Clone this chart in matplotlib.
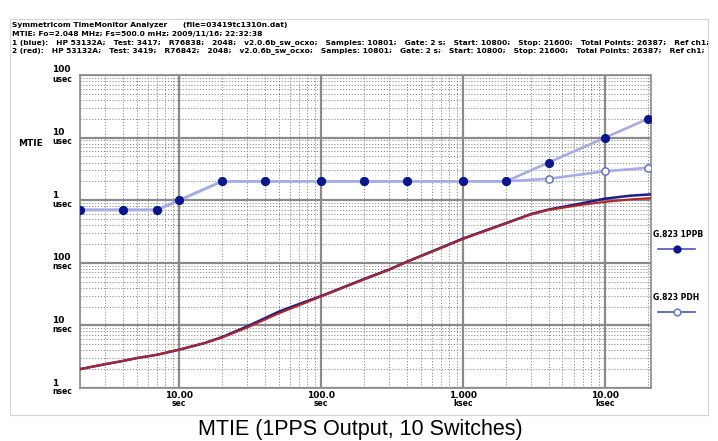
import numpy as np
import matplotlib
matplotlib.use("Agg")
import matplotlib.pyplot as plt

# ---------------------------------------------------------------- data
# measured MTIE, tau in seconds, values in ns
tau = [2, 3, 4, 5, 7, 10, 15, 20, 30, 50, 70, 100, 200, 300, 400, 700,
       1000, 2000, 3000, 4000, 7000, 10000, 15000, 21000]
blue_ns = [2.0, 2.4, 2.7, 3.0, 3.4, 4.1, 5.2, 6.5, 9.6, 16.5, 22, 29.5, 55, 78, 104, 175,
           245, 430, 600, 710, 900, 1060, 1180, 1240]
red_ns = [2.0, 2.4, 2.7, 3.0, 3.4, 4.1, 5.2, 6.4, 9.2, 15.5, 21, 29, 54, 77, 103, 172,
          240, 425, 590, 700, 850, 940, 1030, 1080]

# G.823 masks, tau in seconds, values in us
mask_tau = [2, 4, 7, 10, 20, 40, 100, 200, 400, 1000, 2000, 4000, 10000, 20000]
ppb_us = [0.7, 0.7, 0.7, 1.0, 2.0, 2.0, 2.0, 2.0, 2.0, 2.0, 2.0, 4.0, 10.0, 20.0]
pdh_us = [0.7, 0.7, 0.7, 1.0, 2.0, 2.0, 2.0, 2.0, 2.0, 2.0, 2.0, 2.2, 2.9, 3.3]

y_ticks = [1e-4, 1e-5, 1e-6, 1e-7, 1e-8, 1e-9]
y_nums = ["100", "10", "1", "100", "10", "1"]
y_units = ["usec", "usec", "usec", "nsec", "nsec", "nsec"]
x_ticks = [10, 100, 1000, 10000]
x_nums = ["10.00", "100.0", "1.000", "10.00"]
x_units = ["sec", "sec", "ksec", "ksec"]

header = [
    "Symmetricom TimeMonitor Analyzer      (file=03419tc1310n.dat)",
    "MTIE; Fo=2.048 MHz; Fs=500.0 mHz; 2009/11/16; 22:32:38",
    "1 (blue):   HP 53132A;   Test: 3417;   R76838;   2048;   v2.0.6b_sw_ocxo;   Samples: 10801;   Gate: 2 s;   Start: 10800;   Stop: 21600;   Total Points: 26387;   Ref ch1;",
    "2 (red):   HP 53132A;   Test: 3419;   R76842;   2048;   v2.0.6b_sw_ocxo;   Samples: 10801;   Gate: 2 s;   Start: 10800;   Stop: 21600;   Total Points: 26387;   Ref ch1;  T",
]
caption = "MTIE (1PPS Output, 10 Switches)"

# ---------------------------------------------------------------- figure
W, H = 718, 441
fig = plt.figure(figsize=(W / 100, H / 100), dpi=100)
small = ["Liberation Sans Narrow", "DejaVu Sans"]

# frame around the analyzer screenshot
frame = fig.add_axes([10 / W, 1 - 415 / H, 698 / W, 396 / H])
frame.set_xticks([])
frame.set_yticks([])
frame.set_xlim(0, 698)
frame.set_ylim(396, 0)
for s in frame.spines.values():
    s.set_color("#d4d4d4")
    s.set_linewidth(0.8)
for i, line in enumerate(header):
    frame.text(2, 6.5 + i * 8.4, line, fontsize=5.4, fontweight="bold",
               family=small, va="center", ha="left", clip_on=True)

ax = fig.add_axes([80 / W, 1 - 388 / H, 571 / W, 313 / H])
ax.set_xscale("log")
ax.set_yscale("log")
ax.set_xlim(2, 21000)
ax.set_ylim(1e-9, 1e-4)

ax.grid(which="major", color="#8a8a8a", linewidth=1.6, linestyle="-")
ax.grid(which="minor", color="#8a8a8a", linewidth=0.7, linestyle=(0, (1.2, 1.8)))
ax.tick_params(which="both", length=0, labelleft=False, labelbottom=False)
for s in ax.spines.values():
    s.set_color("#8a8a8a")
    s.set_linewidth(1.2)
ax.set_axisbelow(True)

mask_col = "#a8ace4"
ax.plot(mask_tau, np.array(pdh_us) * 1e-6, color=mask_col, lw=1.9, marker="o", ms=5.2,
        mfc="white", mec="#6a74c8", mew=1.1, zorder=3)
ax.plot(mask_tau, np.array(ppb_us) * 1e-6, color=mask_col, lw=1.9, marker="o", ms=5.6,
        mfc="#0a1790", mec="#0a1790", zorder=4)
ax.plot(tau, np.array(blue_ns) * 1e-9, color="#1c1c8a", lw=1.8, zorder=5)
ax.plot(tau, np.array(red_ns) * 1e-9, color="#b0262a", lw=1.5, zorder=6)

for v, n, u in zip(y_ticks, y_nums, y_units):
    ax.annotate(n, xy=(0, v), xycoords=("axes fraction", "data"), xytext=(-28, 5),
                textcoords="offset pixels", ha="left", va="center", fontsize=6.5,
                fontweight="bold", family=small)
    ax.annotate(u, xy=(0, v), xycoords=("axes fraction", "data"), xytext=(-28, -4),
                textcoords="offset pixels", ha="left", va="center", fontsize=5.5,
                fontweight="bold", family=small)
ax.annotate("MTIE", xy=(0, 1e-5), xycoords=("axes fraction", "data"), xytext=(-62, -6),
            textcoords="offset pixels", ha="left", va="center", fontsize=6.5,
            fontweight="bold", family=small)

for v, n, u in zip(x_ticks, x_nums, x_units):
    ax.annotate(n, xy=(v, 0), xycoords=("data", "axes fraction"), xytext=(0, -7),
                textcoords="offset pixels", ha="center", va="center", fontsize=6.5,
                fontweight="bold", family=small)
    ax.annotate(u, xy=(v, 0), xycoords=("data", "axes fraction"), xytext=(0, -16),
                textcoords="offset pixels", ha="center", va="center", fontsize=5.5,
                fontweight="bold", family=small)

# legend drawn by hand at the right of the plot
leg = [("G.823 1PPB", "#0a1790", "#0a1790", 234, 249),
       ("G.823 PDH", "white", "#6a74c8", 297, 312)]
for label, fc, ec, ty, ly in leg:
    fig.text(653 / W, 1 - ty / H, label, fontsize=5.5, fontweight="bold", family=small,
             ha="left", va="center")
    fig.lines.append(plt.Line2D([658 / W, 695 / W], [1 - ly / H, 1 - ly / H],
                                transform=fig.transFigure, color="#4a56b8", lw=1.2))
    fig.lines.append(plt.Line2D([677 / W], [1 - ly / H], transform=fig.transFigure,
                                marker="o", ms=4.8, mfc=fc, mec=ec, mew=1.1, lw=0))

fig.text(360 / W, 1 - 429 / H, caption, fontsize=15.5, family=["Liberation Sans", "DejaVu Sans"],
         ha="center", va="center")

fig.savefig("out.png", dpi=100)
